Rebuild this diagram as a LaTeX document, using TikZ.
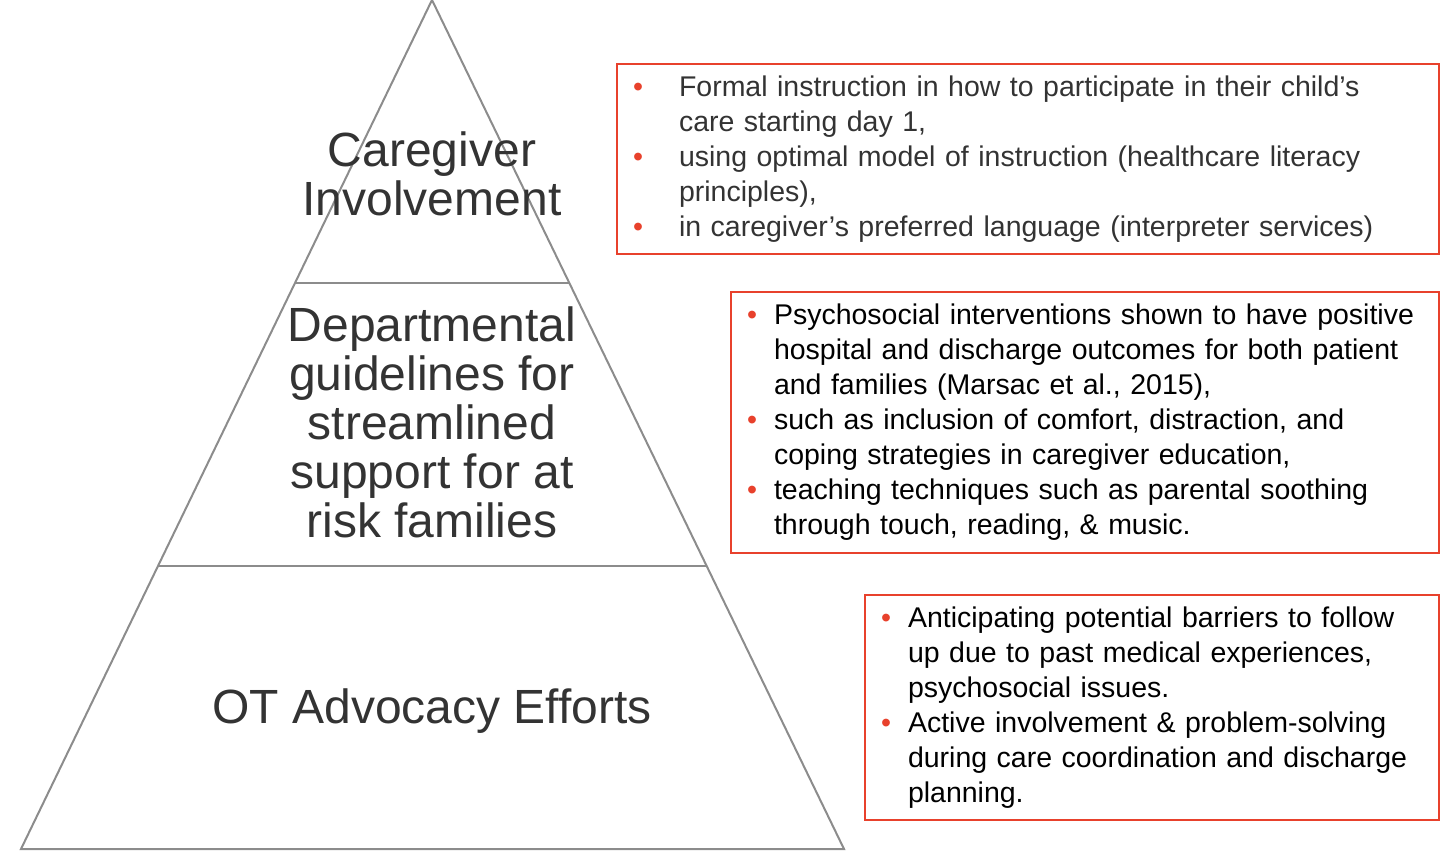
\documentclass[tikz,border=0pt]{standalone}
\usepackage{fontspec}
\setmainfont{Liberation Sans}
\usetikzlibrary{positioning,calc}
\usepackage{xcolor}
\definecolor{bulred}{HTML}{E8412C}
\definecolor{pyrgray}{HTML}{8C8C8C}
\definecolor{txtgray}{HTML}{333333}
\newcommand{\bul}[1]{\makebox[#1][l]{\textcolor{bulred}{•}}}
\newcommand{\ind}[1]{\hspace*{#1}}

\begin{document}
\begin{tikzpicture}[x=1pt, y=-1pt,
        level/.style={font=\fontsize{48}{49}\selectfont, text=txtgray, align=center},
        notebox/.style={draw=bulred, line width=2pt, anchor=north west, align=left, font=\fontsize{28.5}{35}\selectfont, inner xsep=16pt, inner ysep=0pt},
        tier/.style={draw=pyrgray, line width=2pt}
    ]
    \useasboundingbox (0,0) rectangle (1454,864);

    % Pyramide
    \coordinate (top) at (432,0);
    \coordinate (bl) at (21,849);
    \coordinate (br) at (844,849);
    \draw[tier] (bl) -- (top) -- (br) -- cycle;
    \draw[tier] ($(top)!1/3!(bl)$) -- ($(top)!1/3!(br)$);
    \draw[tier] ($(top)!2/3!(bl)$) -- ($(top)!2/3!(br)$);

    % Niveaux
    \node[level] (care) at (432,174) {Caregiver\\Involvement};
    \node[level] (dept) at (432,422) {Departmental\\guidelines for\\streamlined\\support for at\\risk families};
    \node[level] (ot) at (432,711) {OT Advocacy Efforts};

    % Encadres
    \node[notebox, text=txtgray, text width=790pt, minimum height=190pt] (carenote) at (616,63) {%
        \bul{46pt}Formal instruction in how to participate in their child’s\\
        \ind{46pt}care starting day 1,\\
        \bul{46pt}using optimal model of instruction (healthcare literacy\\
        \ind{46pt}principles),\\
        \bul{46pt}in caregiver’s preferred language (interpreter services)};
    \node[notebox, text=black, text width=676pt, minimum height=261pt] (deptnote) at (730,291) {%
        \bul{27pt}Psychosocial interventions shown to have positive\\
        \ind{27pt}hospital and discharge outcomes for both patient\\
        \ind{27pt}and families (Marsac et al., 2015),\\
        \bul{27pt}such as inclusion of comfort, distraction, and\\
        \ind{27pt}coping strategies in caregiver education,\\
        \bul{27pt}teaching techniques such as parental soothing\\
        \ind{27pt}through touch, reading, \& music.};
    \node[notebox, text=black, text width=542pt, minimum height=225pt] (otnote) at (864,594) {%
        \bul{27pt}Anticipating potential barriers to follow\\
        \ind{27pt}up due to past medical experiences,\\
        \ind{27pt}psychosocial issues.\\
        \bul{27pt}Active involvement \& problem-solving\\
        \ind{27pt}during care coordination and discharge\\
        \ind{27pt}planning.};

\end{tikzpicture}
\end{document}
